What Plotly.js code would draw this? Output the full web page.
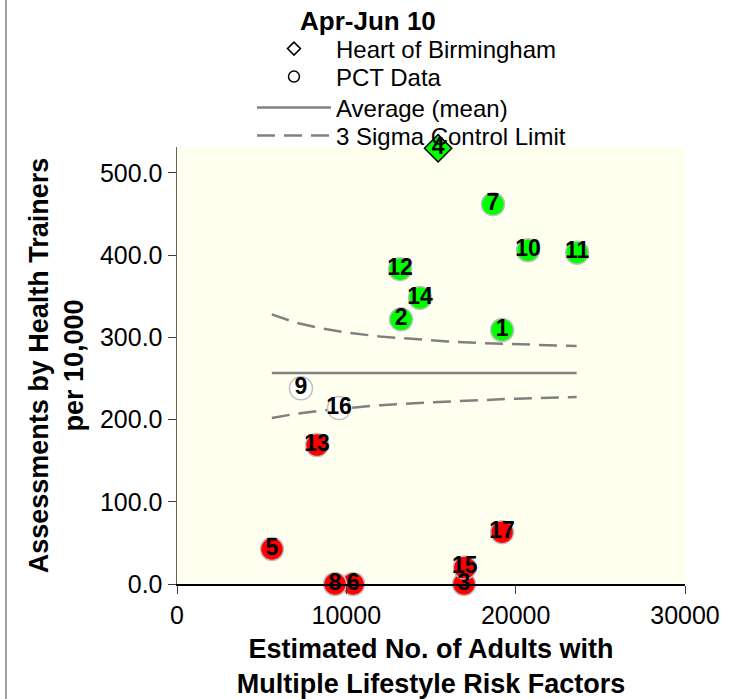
<!DOCTYPE html>
<html>
<head>
<meta charset="utf-8">
<script src="https://cdn.plot.ly/plotly-3.0.1.min.js"></script>
<style>
  html, body { margin: 0; padding: 0; background: #ffffff; }
  #wrap { position: relative; width: 738px; height: 699px; }
  #chart { width: 738px; height: 699px; }
  #frame { position: absolute; left: 5px; top: 0; width: 2px; height: 699px; background: #a0a0a0; }
</style>
</head>
<body>
<div id="wrap">
  <div id="chart"></div>
  <div id="frame"></div>
</div>
<script>
// ---- Data ----
const periodTitle = 'Apr-Jun 10';
const seriesNames = ['Heart of Birmingham', 'PCT Data', 'Average (mean)', '3 Sigma Control Limit'];

// Heart of Birmingham (highlighted PCT)
const hobLabel = ['4'];
const hobX = [15420];
const hobY = [530];
const hobStatus = ['above'];

// PCT data points
const pctLabels = ['1', '2', '3', '5', '6', '7', '8', '9', '10', '11', '12', '13', '14', '15', '16', '17'];
const pctX = [19200, 13230, 16950, 5610, 10400, 18660, 9330, 7320, 20730, 23630, 13170, 8270, 14350, 17000, 9570, 19200];
const pctY = [309, 322, 0, 42.6, 0, 462, 0, 238, 406, 403, 383, 169, 348, 20, 214, 63];
const pctStatus = ['above', 'above', 'below', 'below', 'below', 'above', 'below', 'within', 'above', 'above', 'above', 'below', 'above', 'below', 'within', 'below'];

// Average (mean) line
const meanX = [5600, 23600];
const meanY = [256.7, 256.7];

// 3 sigma control limits
const limitX = [5600, 7000, 8500, 10000, 12000, 14000, 16000, 18000, 20000, 22000, 23600];
const upperY = [328, 318, 311, 306, 301, 298, 295, 293, 291.5, 290.5, 289.5];
const lowerY = [202, 207, 211, 214, 217.5, 220, 222, 224, 225.5, 226.5, 227.5];

// ---- Styling ----
const statusColor = { above: '#00ff00', within: '#ffffff', below: '#ff0000' };
const FONT = 'Arial, "Liberation Sans", sans-serif';
const NUMFONT = 'Arial, "Liberation Sans", sans-serif';
const GREY = '#808080';

const traces = [
  // Legend entries (hollow symbols as in reference)
  { type: 'scatter', mode: 'markers', name: seriesNames[0], x: [null], y: [null], legend: 'legend',
    marker: { symbol: 'diamond', size: 10, color: '#ffffff', line: { color: '#000000', width: 1.5 } },
    hoverinfo: 'skip' },
  { type: 'scatter', mode: 'markers', name: seriesNames[1], x: [null], y: [null], legend: 'legend2',
    marker: { symbol: 'circle', size: 11, color: '#ffffff', line: { color: '#000000', width: 1.5 } },
    hoverinfo: 'skip' },
  { type: 'scatter', mode: 'lines', name: seriesNames[2], x: meanX, y: meanY, legend: 'legend3',
    line: { color: GREY, width: 2.5 }, hoverinfo: 'skip' },
  { type: 'scatter', mode: 'lines', name: seriesNames[3], x: limitX, y: upperY, legend: 'legend4',
    line: { color: GREY, width: 2.5, dash: '18px,9px' }, hoverinfo: 'skip' },
  { type: 'scatter', mode: 'lines', name: 'lower limit', x: limitX, y: lowerY, showlegend: false,
    line: { color: GREY, width: 2.5, dash: '18px,9px' }, hoverinfo: 'skip' },
  // PCT markers
  { type: 'scatter', mode: 'markers+text', name: 'PCT', showlegend: false,
    x: pctX, y: pctY, text: pctLabels, textposition: 'middle center', cliponaxis: false,
    textfont: { family: NUMFONT, size: 23, color: '#000000', weight: 'bold' },
    marker: { symbol: 'circle', size: 23, color: pctStatus.map(s => statusColor[s]),
              line: { color: '#c0c0c0', width: 1.5 } } },
  // Heart of Birmingham marker
  { type: 'scatter', mode: 'markers+text', name: 'HoB', showlegend: false,
    x: hobX, y: hobY, text: hobLabel, textposition: 'middle center', cliponaxis: false,
    textfont: { family: NUMFONT, size: 23, color: '#000000', weight: 'bold' },
    marker: { symbol: 'diamond', size: 21, color: hobStatus.map(s => statusColor[s]),
              line: { color: '#000000', width: 1.5 } } }
];

function legendAt(ypaper) {
  return {
    x: 0.1476, y: ypaper, xanchor: 'left', yanchor: 'top',
    bgcolor: 'rgba(0,0,0,0)', borderwidth: 0, itemwidth: 74,
    font: { family: FONT, size: 24, color: '#000000' }
  };
}

const layout = {
  width: 738, height: 699,
  margin: { l: 177, r: 53, t: 147, b: 115, autoexpand: false },
  paper_bgcolor: '#ffffff',
  plot_bgcolor: '#fffff0',
  font: { family: FONT, color: '#000000', size: 23 },
  showlegend: true,
  legend: legendAt(1.2757),
  legend2: legendAt(1.2117),
  legend3: legendAt(1.1407),
  legend4: legendAt(1.0767),
  annotations: [
    { text: periodTitle, xref: 'paper', yref: 'paper', x: 0.376, y: 1.288,
      xanchor: 'center', yanchor: 'middle', showarrow: false,
      font: { family: FONT, size: 26, color: '#000000', weight: 'bold' } }
  ],
  xaxis: {
    range: [0, 30000], dtick: 10000, tick0: 0, tickformat: 'd',
    showgrid: false, zeroline: false,
    showline: true, linecolor: '#000000', linewidth: 1.5,
    ticks: 'outside', ticklen: 8, tickcolor: '#404040', tickwidth: 1,
    tickfont: { family: FONT, size: 25, color: '#000000' },
    title: { text: 'Estimated No. of Adults with<br>Multiple Lifestyle Risk Factors', standoff: 14,
             font: { family: FONT, size: 27, color: '#000000', weight: 'bold' } },
    fixedrange: true
  },
  yaxis: {
    range: [0, 531.6], dtick: 100, tick0: 0, tickformat: '.1f',
    showgrid: false, zeroline: false,
    showline: true, linecolor: '#666666', linewidth: 1.5,
    ticks: 'outside', ticklen: 8, tickcolor: '#404040', tickwidth: 1,
    tickfont: { family: FONT, size: 25, color: '#000000' },
    title: { text: 'Assessments by Health Trainers<br>per 10,000', standoff: 8,
             font: { family: FONT, size: 27, color: '#000000', weight: 'bold' } },
    fixedrange: true
  }
};

Plotly.newPlot('chart', traces, layout, { displayModeBar: false, staticPlot: true });
</script>
</body>
</html>
